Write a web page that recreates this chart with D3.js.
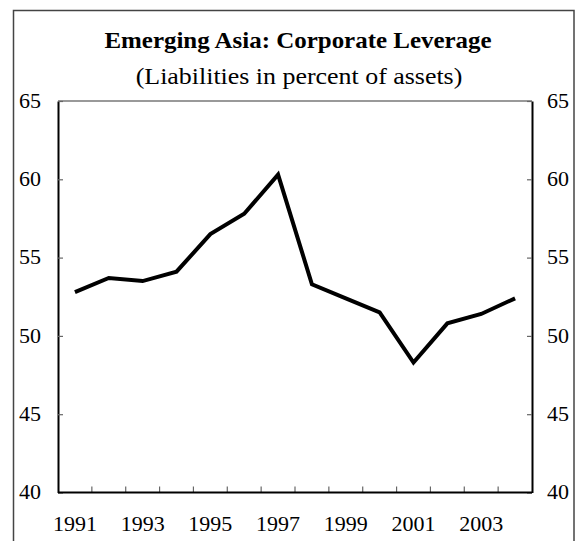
<!DOCTYPE html>
<html>
<head>
<meta charset="utf-8">
<script src="https://cdn.jsdelivr.net/npm/d3@7"></script>
<style>
  body { margin: 0; background: #fff; }
  text { font-family: "Liberation Serif", "Times New Roman", serif; fill: #000; }
</style>
</head>
<body>
<div id="chart"></div>
<script>
// Emerging Asia corporate leverage, liabilities in percent of assets
const years = [1991, 1992, 1993, 1994, 1995, 1996, 1997, 1998, 1999, 2000, 2001, 2002, 2003, 2004];
const leverage = [52.8, 53.7, 53.5, 54.1, 56.5, 57.8, 60.3, 53.3, 52.4, 51.5, 48.3, 50.8, 51.4, 52.4];
const xLabels = [1991, 1993, 1995, 1997, 1999, 2001, 2003];
const yTicks = [40, 45, 50, 55, 60, 65];

const svgWidth = 580, svgHeight = 541;
const plot = { left: 58, right: 532, top: 101, bottom: 492.5 };

const svg = d3.select('#chart').append('svg')
  .attr('width', svgWidth)
  .attr('height', svgHeight);

// outer frame
svg.append('rect')
  .attr('x', 13.5)
  .attr('y', 10.5)
  .attr('width', 560.5)
  .attr('height', 560)
  .attr('fill', 'none')
  .attr('stroke', '#444')
  .attr('stroke-width', 1.5);

svg.append('text')
  .attr('transform', 'translate(298, 48) scale(1.085, 1)')
  .attr('text-anchor', 'middle')
  .attr('font-size', 23)
  .attr('font-weight', 'bold')
  .text('Emerging Asia: Corporate Leverage');

svg.append('text')
  .attr('transform', 'translate(299, 84) scale(1.08, 1)')
  .attr('text-anchor', 'middle')
  .attr('font-size', 24)
  .text('(Liabilities in percent of assets)');

const x = d3.scaleBand()
  .domain(years)
  .range([plot.left, plot.right]);
const y = d3.scaleLinear()
  .domain([40, 65])
  .range([plot.bottom, plot.top]);

// top border of plot area
svg.append('line')
  .attr('x1', plot.left).attr('x2', plot.right)
  .attr('y1', plot.top).attr('y2', plot.top)
  .attr('stroke', '#777')
  .attr('stroke-width', 1.5);

const leftAxis = svg.append('g')
  .attr('transform', `translate(${plot.left}, 0)`)
  .call(d3.axisLeft(y).tickValues(yTicks).tickSizeInner(-5).tickSizeOuter(0).tickPadding(17));
const rightAxis = svg.append('g')
  .attr('transform', `translate(${plot.right}, 0)`)
  .call(d3.axisRight(y).tickValues(yTicks).tickSizeInner(-5).tickSizeOuter(0).tickPadding(15));

[leftAxis, rightAxis].forEach(a => {
  a.select('.domain').attr('stroke', '#000').attr('stroke-width', 2);
  a.selectAll('.tick line').attr('stroke', '#666').attr('stroke-width', 1.2);
  a.selectAll('.tick text')
    .attr('font-size', 22)
    .attr('font-family', '"Liberation Serif", serif')
    .attr('fill', '#000')
    .attr('dy', '0.28em');
});

// bottom axis: ticks at year boundaries, labels every other year
const bottom = svg.append('g');
bottom.selectAll('line.tick')
  .data(years.slice(1))
  .enter()
  .append('line')
  .attr('class', 'tick')
  .attr('x1', d => x(d)).attr('x2', d => x(d))
  .attr('y1', plot.bottom).attr('y2', plot.bottom - 6)
  .attr('stroke', '#666')
  .attr('stroke-width', 1.2);
bottom.append('line')
  .attr('x1', plot.left).attr('x2', plot.right)
  .attr('y1', plot.bottom).attr('y2', plot.bottom)
  .attr('stroke', '#000')
  .attr('stroke-width', 2);
bottom.selectAll('text')
  .data(xLabels)
  .enter()
  .append('text')
  .attr('x', d => x(d) + x.bandwidth() / 2)
  .attr('y', 531)
  .attr('text-anchor', 'middle')
  .attr('font-size', 22)
  .text(d => d);

const line = d3.line()
  .x((d, i) => x(years[i]) + x.bandwidth() / 2)
  .y(d => y(d));

svg.append('path')
  .datum(leverage)
  .attr('fill', 'none')
  .attr('stroke', '#000')
  .attr('stroke-width', 4)
  .attr('stroke-linejoin', 'miter')
  .attr('d', line);
</script>
</body>
</html>
